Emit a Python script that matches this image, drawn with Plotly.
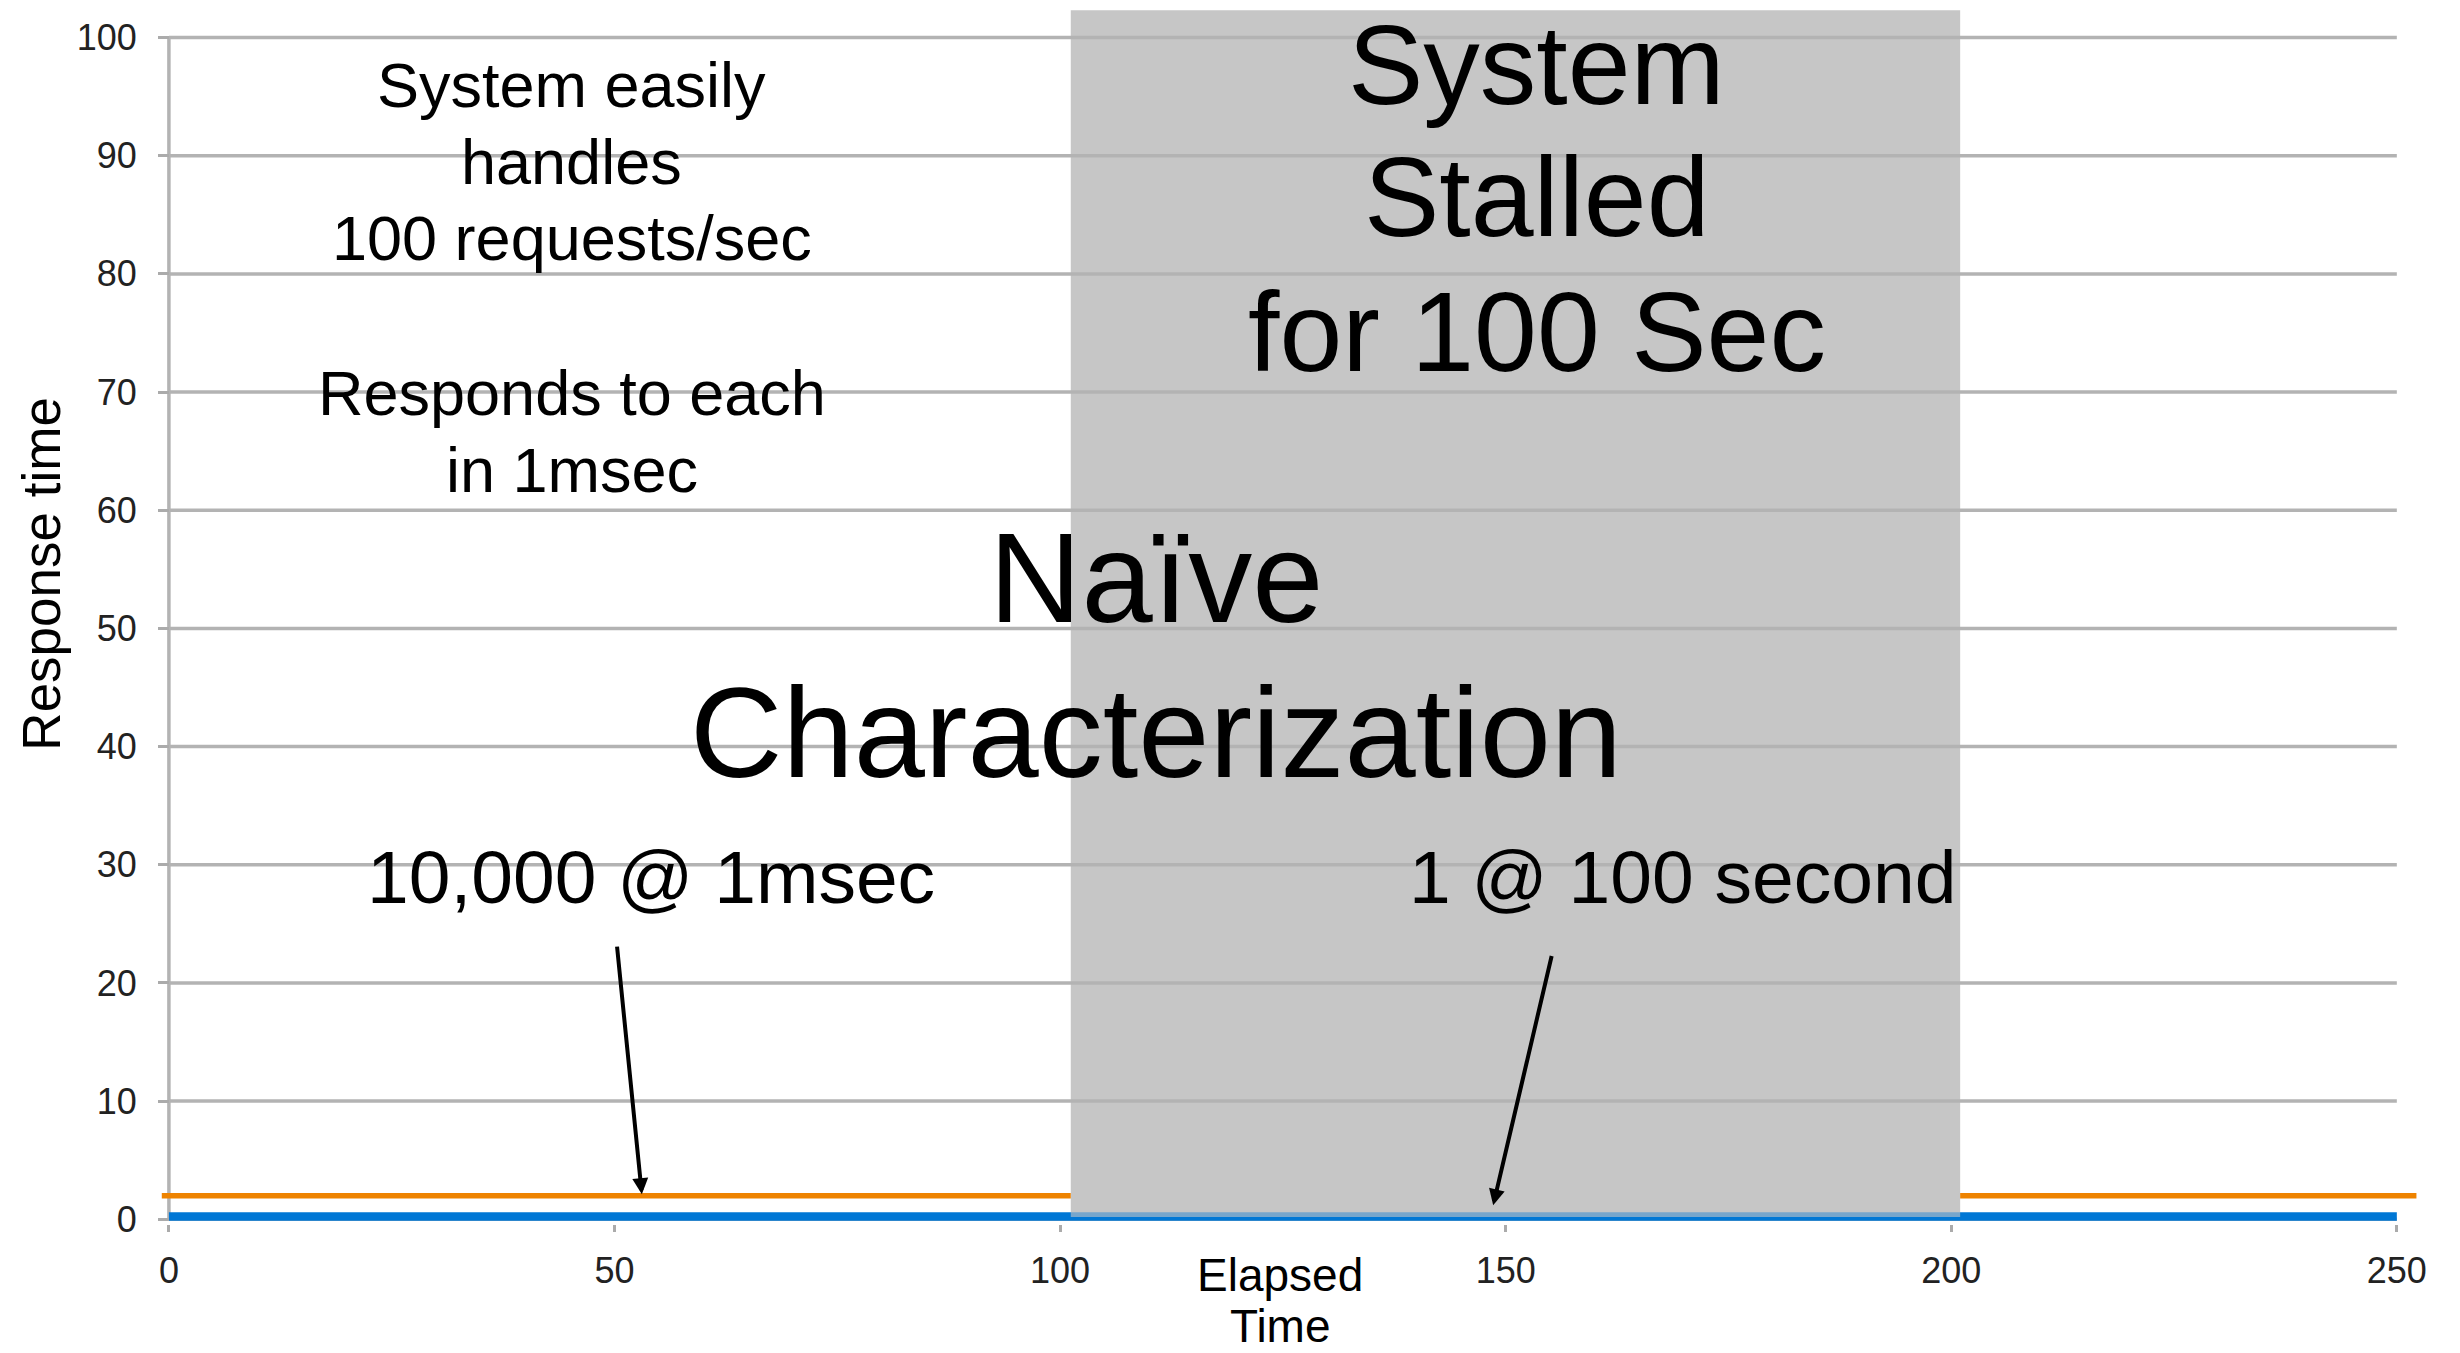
import plotly.graph_objects as go

# ---- data -------------------------------------------------------------
# Orange series: 1 msec responses while the system is running (none during the stall)
orange_x = [-0.8, 101.2, None, 201.0, 252.2]
orange_y = [2.0, 2.0, None, 2.0, 2.0]

# Blue series: the characterised response time across the whole run
blue_x = [0, 250]
blue_y = [0.23, 0.23]

# Stall window
stall_start = 101.2
stall_end = 201.0
stall_bottom = 0.2
stall_top = 102.3

x_ticks = [0, 50, 100, 150, 200, 250]
y_ticks = [0, 10, 20, 30, 40, 50, 60, 70, 80, 90, 100]

# ---- geometry ---------------------------------------------------------
W, H = 2460, 1353
x_range = [-1.0, 252.6]
y_range = [-0.4, 102.5]
px_per_x = 8.912
px_per_y = 11.813
x0_px = 169.0     # pixel column of x = 0
y0_px = 1219.0    # pixel row of y = 0

plot_w = (x_range[1] - x_range[0]) * px_per_x
plot_h = (y_range[1] - y_range[0]) * px_per_y
m_l = x0_px + x_range[0] * px_per_x
m_r = W - m_l - plot_w
m_t = y0_px - y_range[1] * px_per_y
m_b = H - m_t - plot_h

yaxis_pos = (0 - x_range[0]) / (x_range[1] - x_range[0])


def paper_x(v):
    return (v - x_range[0]) / (x_range[1] - x_range[0])


def paper_y(v):
    return (v - y_range[0]) / (y_range[1] - y_range[0])


FONT = "Liberation Sans, Arial, sans-serif"
GRID = "#b3b3b3"
TICK = "#ababab"

fig = go.Figure()

fig.add_trace(go.Scatter(
    x=orange_x, y=orange_y, mode="lines",
    line=dict(color="#ee8300", width=5.5),
    connectgaps=False, hoverinfo="skip", showlegend=False,
))
fig.add_trace(go.Scatter(
    x=blue_x, y=blue_y, mode="lines",
    line=dict(color="#0077d5", width=8.5),
    hoverinfo="skip", showlegend=False,
))

shapes = []
# grey stall band
shapes.append(dict(type="rect", xref="x", yref="y",
                   x0=stall_start, x1=stall_end, y0=stall_bottom, y1=stall_top,
                   fillcolor="#c6c6c6", line=dict(width=0), layer="below"))
# horizontal gridlines spanning the data extent
for v in y_ticks:
    shapes.append(dict(type="line", xref="x", yref="y",
                       x0=x_ticks[0], x1=x_ticks[-1], y0=v, y1=v,
                       line=dict(color=GRID, width=3.5), layer="below"))
# vertical axis line
shapes.append(dict(type="line", xref="x", yref="y",
                   x0=0, x1=0, y0=y_ticks[0], y1=y_ticks[-1],
                   line=dict(color=GRID, width=3.5), layer="below"))
# the band's lower edge tints the top of the blue line
shapes.append(dict(type="rect", xref="x", yref="y",
                   x0=stall_start, x1=stall_end, y0=stall_bottom, y1=0.62,
                   fillcolor="#c6c6c6", opacity=0.6, line=dict(width=0), layer="above"))

annotations = []


def label(text, x, y, size, angle=0):
    # positioned in paper space so labels outside the axis ranges stay visible
    annotations.append(dict(text=text, x=paper_x(x), y=paper_y(y),
                            xref="paper", yref="paper",
                            xanchor="center", yanchor="middle", showarrow=False,
                            textangle=angle,
                            font=dict(family=FONT, size=size, color="#000000")))


# left-hand description
label("System easily", 45.2, 96.0, 63)
label("handles", 45.2, 89.5, 63)
label("100 requests/sec", 45.2, 83.0, 63)
label("Responds to each", 45.2, 69.9, 63)
label("in 1msec", 45.2, 63.4, 63)

# stall caption
label("System", 153.5, 97.7, 113)
label("Stalled", 153.5, 86.5, 113)
label("for 100 Sec", 153.5, 75.1, 113)

# headline
label("Naïve", 110.75, 54.3, 128)
label("Characterization", 110.75, 41.2, 128)

# counts
label("10,000 @ 1msec", 54.1, 29.0, 75)
label("1 @ 100 second", 169.8, 29.0, 75)

# axis titles
label("Elapsed", 124.7, -4.74, 46)
label("Time", 124.7, -9.0, 46)
label("Response time", -14.4, 54.6, 53, angle=-90)

# arrows pointing at the two series
for tip, tail in [((53.07, 2.12), (50.27, 23.2)), ((148.6, 1.19), (155.2, 22.4))]:
    annotations.append(dict(text="", x=tip[0], y=tip[1], ax=tail[0], ay=tail[1],
                            xref="x", yref="y", axref="x", ayref="y",
                            showarrow=True, arrowhead=2, arrowsize=0.8,
                            arrowwidth=4, arrowcolor="#000000", standoff=0))

fig.update_layout(
    width=W, height=H, autosize=False,
    margin=dict(l=m_l, r=m_r, t=m_t, b=m_b, pad=0),
    paper_bgcolor="white", plot_bgcolor="white",
    shapes=shapes, annotations=annotations,
    showlegend=False,
    xaxis=dict(range=x_range, tickvals=x_ticks, ticktext=[str(v) for v in x_ticks],
               showgrid=False, zeroline=False, showline=False,
               ticks="outside", ticklen=7, tickwidth=3, tickcolor=TICK,
               ticklabelstandoff=8,
               tickfont=dict(family=FONT, size=36, color="#222222"),
               fixedrange=True),
    yaxis=dict(range=y_range, tickvals=y_ticks, ticktext=[str(v) for v in y_ticks],
               anchor="free", position=yaxis_pos,
               showgrid=False, zeroline=False, showline=False,
               ticks="outside", ticklen=11, tickwidth=3, tickcolor=TICK,
               ticklabelstandoff=14,
               tickfont=dict(family=FONT, size=36, color="#222222"),
               fixedrange=True),
)

fig.write_html("out.html", config={"displayModeBar": False})
